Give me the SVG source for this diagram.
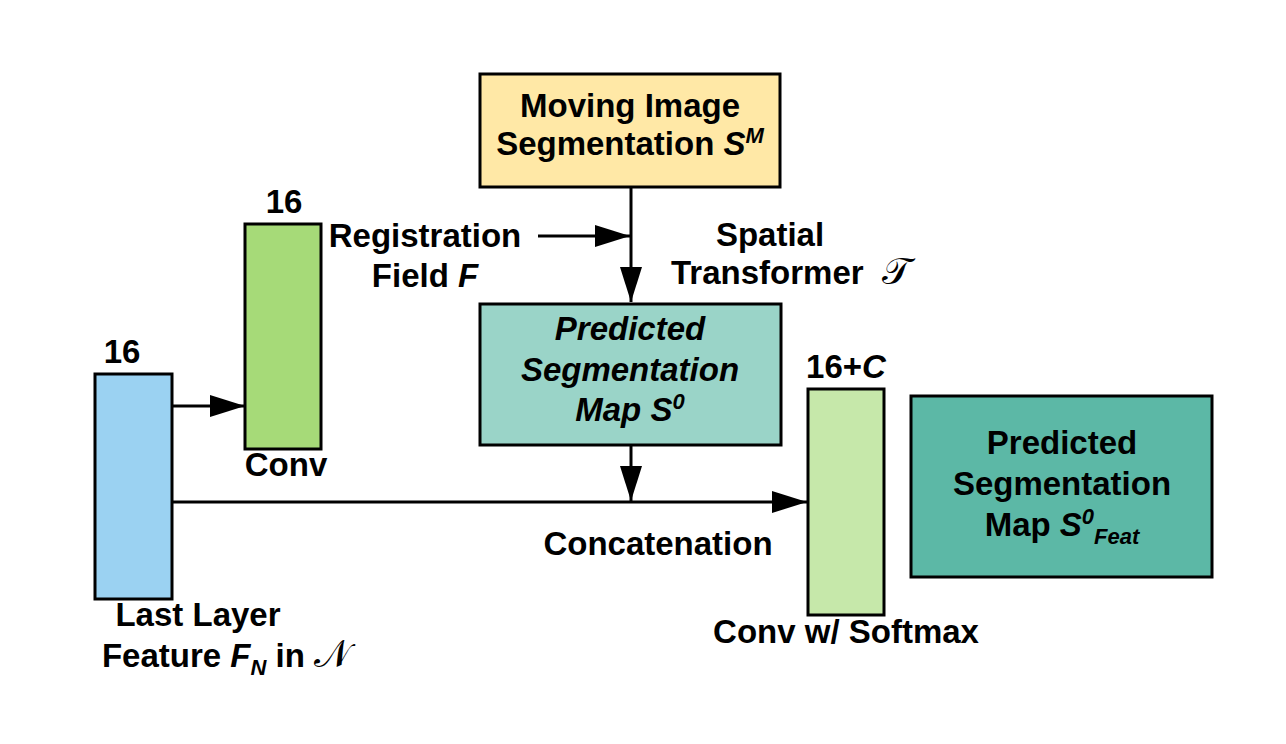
<svg xmlns="http://www.w3.org/2000/svg" width="1286" height="744" viewBox="0 0 1286 744">
<style>
text{font-family:"Liberation Sans",Arial,sans-serif;font-weight:bold;font-size:33px;fill:#000}
.c{text-anchor:middle}
.i{font-style:italic}
.s{font-size:22px}
.box{stroke:#000;stroke-width:3}
.ln{stroke:#000;stroke-width:3;fill:none}
.m{font-family:"DejaVu Sans","Noto Sans",serif;font-weight:normal;font-style:normal;font-size:38px}
</style>
<defs>
<marker id="ah" markerUnits="userSpaceOnUse" markerWidth="35" markerHeight="22" refX="35" refY="11" orient="auto">
<path d="M0,0 L35,11 L0,22 z" fill="#000"/>
</marker>
</defs>
<rect width="1286" height="744" fill="#fff"/>
<g id="connectors">
<line class="ln" x1="172" y1="406" x2="245" y2="406" marker-end="url(#ah)"/>
<line class="ln" x1="172" y1="502" x2="807" y2="502" marker-end="url(#ah)"/>
<line class="ln" x1="631" y1="188" x2="631" y2="302" marker-end="url(#ah)"/>
<line class="ln" x1="538" y1="236" x2="630" y2="236" marker-end="url(#ah)"/>
<line class="ln" x1="631" y1="446" x2="631" y2="501" marker-end="url(#ah)"/>
</g>
<g id="moving-seg">
<rect class="box" x="480" y="74" width="300" height="113" fill="#FFE8A6"/>
<text class="c" x="630" y="117">Moving Image</text>
<text class="c" x="630" y="155">Segmentation <tspan class="i">S</tspan><tspan class="i s" dy="-12">M</tspan></text>
</g>
<g id="pred-seg">
<rect class="box" x="480" y="304" width="301" height="141" fill="#9AD4C8"/>
<text class="c i" x="630" y="340">Predicted</text>
<text class="c i" x="630" y="381">Segmentation</text>
<text class="c i" x="630" y="421">Map S<tspan class="s" dy="-12">0</tspan></text>
</g>
<g id="pred-seg-feat">
<rect class="box" x="911" y="396" width="301" height="181" fill="#5CB8A6"/>
<text class="c" x="1062" y="454">Predicted</text>
<text class="c" x="1062" y="495">Segmentation</text>
<text class="c" x="1062" y="536">Map <tspan class="i">S</tspan><tspan class="i s" dy="-12">0</tspan><tspan class="i s" dy="20">Feat</tspan></text>
</g>
<g id="last-layer">
<rect class="box" x="95" y="374" width="77" height="225" fill="#9BD2F2"/>
<text class="c" x="122" y="363">16</text>
<text class="c" x="198" y="626">Last Layer</text>
<text class="c" x="226" y="667">Feature <tspan class="i">F</tspan><tspan class="i s" dy="8">N</tspan><tspan dy="-8"> in </tspan><tspan class="m">𝒩</tspan></text>
</g>
<g id="conv">
<rect class="box" x="245" y="224" width="76" height="225" fill="#A6DA78"/>
<text class="c" x="284" y="213">16</text>
<text class="c" x="286" y="476">Conv</text>
</g>
<g id="conv-softmax">
<rect class="box" x="808" y="389" width="76" height="226" fill="#C6E8AA"/>
<text class="c" x="846" y="378">16+<tspan class="i">C</tspan></text>
<text class="c" x="846" y="643">Conv w/ Softmax</text>
</g>
<g id="labels">
<text class="c" x="425" y="247">Registration</text>
<text class="c" x="425" y="287">Field <tspan class="i">F</tspan></text>
<text class="c" x="770" y="246">Spatial</text>
<text class="c" x="791" y="284" xml:space="preserve">Transformer  <tspan class="m">𝒯</tspan></text>
<text class="c" x="658" y="555">Concatenation</text>
</g>
</svg>
